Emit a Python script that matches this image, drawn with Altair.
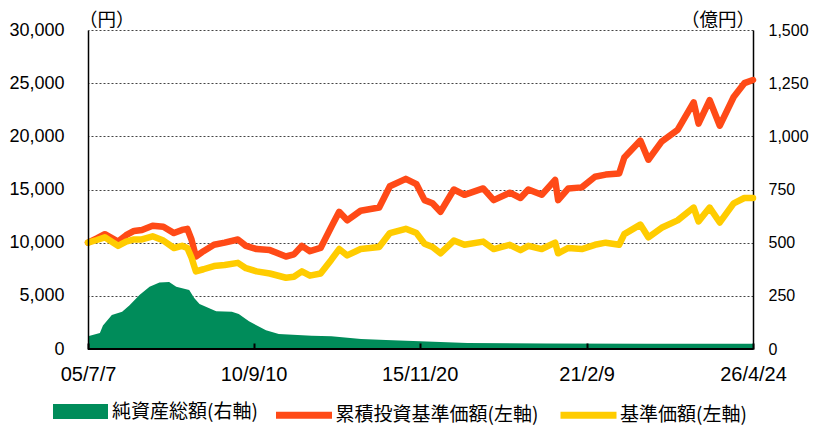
import altair as alt
import pandas as pd

# ---------------- data ----------------
nav_dates = [
    "2005-07-07", "2005-10-15", "2006-01-15", "2006-06-15", "2006-09-15",
    "2006-12-15", "2007-03-15", "2007-07-15", "2007-11-15", "2008-03-15",
    "2008-06-15", "2008-08-15", "2008-10-01", "2008-11-20", "2009-02-15",
    "2009-06-15", "2009-10-15", "2010-03-15", "2010-06-15", "2010-10-15",
    "2011-03-15", "2011-09-15", "2011-12-15", "2012-03-15", "2012-06-15",
    "2012-10-15", "2013-02-15", "2013-05-15", "2013-08-15", "2014-01-15",
    "2014-08-15", "2014-12-15", "2015-06-15", "2015-10-15", "2016-01-15",
    "2016-04-15", "2016-07-15", "2016-12-15", "2017-04-15", "2017-11-15",
    "2018-03-15", "2018-09-15", "2019-01-15", "2019-04-15", "2019-09-15",
    "2020-02-15", "2020-03-20", "2020-07-15", "2020-12-15", "2021-05-15",
    "2021-09-15", "2022-02-15", "2022-04-15", "2022-10-15", "2023-01-15",
    "2023-06-15", "2023-12-15", "2024-06-15", "2024-08-10", "2024-12-15",
    "2025-04-10", "2025-09-15", "2026-01-15", "2026-04-24",
]
cum_nav = [
    10000, 10400, 10800, 10100, 10700,
    11100, 11200, 11600, 11500, 10900,
    11200, 11300, 10300, 8700, 9200,
    9800, 10000, 10300, 9700, 9400,
    9300, 8700, 8900, 9700, 9200,
    9500, 11500, 12900, 12100, 13000,
    13300, 15300, 16000, 15500, 14000,
    13700, 12900, 15000, 14500, 15100,
    14000, 14700, 14200, 15000, 14500,
    15900, 14000, 15100, 15200, 16200,
    16400, 16500, 18000, 19600, 17800,
    19500, 20600, 23200, 21200, 23400,
    21000, 23700, 25000, 25300,
]
nav = [
    10000, 10250, 10500, 9700, 10100,
    10300, 10300, 10600, 10200, 9500,
    9700, 9500, 8600, 7300, 7500,
    7800, 7900, 8100, 7600, 7300,
    7100, 6700, 6800, 7300, 6900,
    7100, 8400, 9400, 8800, 9400,
    9600, 10900, 11300, 10900, 9900,
    9600, 9000, 10200, 9800, 10100,
    9400, 9800, 9300, 9700, 9400,
    10000, 9000, 9500, 9400, 9800,
    10000, 9800, 10800, 11700, 10500,
    11400, 12100, 13300, 12000, 13300,
    11900, 13700, 14200, 14200,
]
aum_dates = [
    "2005-07-07", "2005-11-20", "2005-12-25", "2006-04-05", "2006-08-01",
    "2006-10-25", "2007-02-15", "2007-06-10", "2007-10-01", "2008-01-20",
    "2008-04-10", "2008-09-05", "2008-11-01", "2009-01-01", "2009-07-10",
    "2010-01-05", "2010-03-25", "2010-07-20", "2011-01-30", "2011-06-25",
    "2012-07-05", "2013-02-15", "2014-01-20", "2014-11-01", "2015-11-25",
    "2017-05-20", "2019-11-15", "2023-01-01", "2026-04-24",
]
aum = [
    60, 75, 110, 160, 175,
    206, 254, 293, 313, 315,
    293, 277, 240, 212, 178,
    175, 164, 130, 88, 70,
    62, 60, 47, 42, 36,
    28, 26, 25, 25,
]
tick_dates = ["2005-07-07", "2010-09-10", "2015-11-20", "2021-02-09", "2026-04-24"]
left_ticks = [0, 5000, 10000, 15000, 20000, 25000, 30000]
right_ticks = [0, 250, 500, 750, 1000, 1250, 1500]

S_AUM = "純資産総額(右軸)"
S_CUM = "累積投資基準価額(左軸)"
S_NAV = "基準価額(左軸)"

GREEN = "#008C5A"
ORANGE = "#FF4A17"
YELLOW = "#FFCC00"
NUM_FONT = "Liberation Sans"
JP_FONT = "Noto Sans CJK JP"


def ms(d):
    return int(pd.Timestamp(d, tz="UTC").timestamp() * 1000)


df_aum = pd.DataFrame({"date": aum_dates, "value": aum, "series": S_AUM})
df_lines = pd.concat([
    pd.DataFrame({"date": nav_dates, "value": cum_nav, "series": S_CUM}),
    pd.DataFrame({"date": nav_dates, "value": nav, "series": S_NAV}),
], ignore_index=True)

xscale = alt.Scale(type="utc", domain=[ms(tick_dates[0]), ms(tick_dates[-1])], nice=False)
xaxis = alt.Axis(
    title=None, values=[ms(d) for d in tick_dates],
    labelExpr="utcFormat(datum.value, '%y/%-m/%-d')",
    offset=-6, domain=False, ticks=True, tickSize=6, tickColor="black", tickWidth=2,
    labelPadding=15, labelFont=NUM_FONT, labelFontSize=20, labelColor="black",
    labelFlush=False, labelOverlap=False, grid=False, zindex=1,
)

left_axis = alt.Axis(
    title="（円）", orient="left", titleAngle=0, titleAlign="left",
    titleBaseline="alphabetic",
    titleX=-9.5, titleY=-4.5, titleFont=JP_FONT, titleFontSize=18.5,
    titleFontWeight="normal", titleColor="black",
    values=left_ticks, format=",d", labelFont=NUM_FONT, labelFontSize=18,
    labelColor="black", labelPadding=24, labelAlign="right", labelBaseline="middle",
    labelFlush=False, labelOverlap=False, ticks=False, domain=True,
    domainColor="black", domainWidth=1.5, grid=False, zindex=1,
)

right_axis = alt.Axis(
    title="（億円）", orient="right", titleAngle=0, titleAlign="right",
    titleBaseline="alphabetic", titleX=1.5, titleY=-4.5, titleFont=JP_FONT,
    titleFontSize=18.5, titleFontWeight="normal", titleColor="black",
    values=right_ticks, format=",d", labelFont=NUM_FONT, labelFontSize=16,
    labelColor="black", labelPadding=15, labelAlign="left", labelBaseline="middle",
    labelFlush=False, labelOverlap=False, ticks=False, domain=True,
    domainColor="black", domainWidth=1.5,
    grid=True, gridColor="#444444", gridDash=[2, 2], gridWidth=1, zindex=0,
)

fill_legend = alt.Legend(
    title=None, orient="none", legendX=-35, legendY=354, direction="horizontal",
    symbolType="M-1,-0.27L1,-0.27L1,0.27L-1,0.27Z", symbolSize=3025,
    symbolStrokeWidth=0, labelFont=JP_FONT, labelFontSize=19, labelColor="black",
    labelOffset=4, labelLimit=0, padding=0,
)
stroke_legend = alt.Legend(
    title=None, orient="none", legendX=184.5, legendY=353.5, direction="horizontal",
    symbolType="stroke", symbolSize=3136, symbolStrokeWidth=7,
    labelFont=JP_FONT, labelFontSize=19, labelColor="black", labelOffset=0,
    labelLimit=0, columnPadding=7.5, padding=0,
)

area = alt.Chart(df_aum).mark_area(opacity=1).encode(
    x=alt.X("date:T", scale=xscale, axis=xaxis),
    y=alt.Y("value:Q", scale=alt.Scale(domain=[0, 1500], nice=False), axis=right_axis),
    fill=alt.Fill("series:N", scale=alt.Scale(domain=[S_AUM], range=[GREEN]),
                  legend=fill_legend),
)
base_rule = alt.Chart(pd.DataFrame({"v": [0]})).mark_rule(color="black", strokeWidth=2).encode(
    y=alt.YDatum(0, scale=alt.Scale(domain=[0, 1]), axis=None),
)
lines = alt.Chart(df_lines).mark_line(strokeWidth=6.5, strokeJoin="round", strokeCap="round").encode(
    x=alt.X("date:T", scale=xscale, axis=xaxis),
    y=alt.Y("value:Q", scale=alt.Scale(domain=[0, 30000], nice=False), axis=left_axis),
    stroke=alt.Stroke("series:N", scale=alt.Scale(domain=[S_CUM, S_NAV], range=[ORANGE, YELLOW]),
                      legend=stroke_legend),
)

chart = alt.layer(area, base_rule, lines).resolve_scale(
    y="independent"
).properties(
    width=665, height=319,
    padding={"left": 80, "top": 22, "right": 56, "bottom": 79},
    autosize="none",
).configure_view(stroke=None)

chart.save("out.html", embed_options={"renderer": "svg", "actions": False})
